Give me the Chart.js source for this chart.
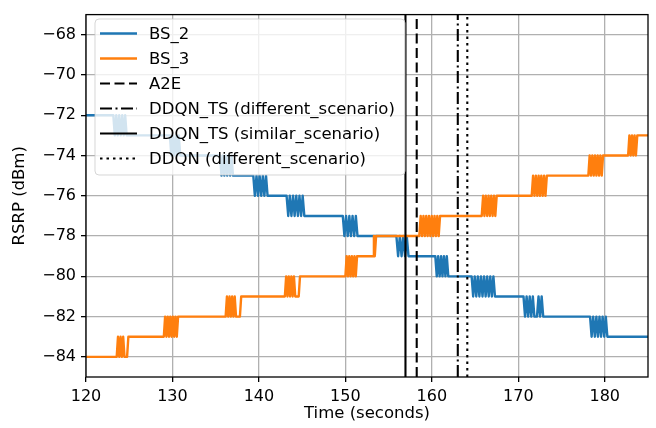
<!DOCTYPE html>
<html>
<head>
<meta charset="utf-8">
<title>RSRP vs time</title>
<script src="https://cdn.jsdelivr.net/npm/chart.js@4.4.1/dist/chart.umd.min.js"></script>
<style>
  html, body { margin: 0; padding: 0; background: #fff; }
  canvas { display: block; }
</style>
</head>
<body>
<canvas id="rsrpChart" width="656" height="428"></canvas>
<script>
// RSRP of the two base stations, sampled as [time (s), RSRP (dBm)]
const bs2Samples = [
    [120, -72],
    [123.16, -72], [123.33, -73], [123.5, -72], [123.67, -73], [123.84, -72], [124.02, -73], [124.19, -72], [124.36, -73], [124.53, -72], [124.7, -73],
    [129.7, -73], [129.87, -74], [130.04, -73], [130.21, -74], [130.39, -73], [130.56, -74], [130.73, -73], [130.9, -74],
    [135.5, -74], [135.67, -75], [135.83, -74], [136.0, -75], [136.17, -74], [136.33, -75], [136.5, -74], [136.67, -75], [136.83, -74], [137.0, -75],
    [139.35, -75], [139.53, -76], [139.72, -75], [139.9, -76], [140.08, -75], [140.27, -76], [140.45, -75], [140.63, -76], [140.82, -75], [141.0, -76],
    [143.2, -76], [143.39, -77], [143.57, -76], [143.76, -77], [143.95, -76], [144.13, -77], [144.32, -76], [144.51, -77], [144.69, -76], [144.88, -77], [145.06, -76], [145.25, -77],
    [149.7, -77], [149.89, -78], [150.08, -77], [150.27, -78], [150.46, -77], [150.64, -78], [150.83, -77], [151.02, -78], [151.21, -77], [151.4, -78],
    [155.9, -78], [156.1, -79], [156.3, -78], [156.5, -79], [156.7, -78], [156.9, -79], [157.1, -78], [157.3, -79],
    [160.4, -79], [160.57, -80], [160.73, -79], [160.9, -80], [161.07, -79], [161.23, -80], [161.4, -79], [161.57, -80], [161.73, -79], [161.9, -80],
    [164.6, -80], [164.78, -81], [164.96, -80], [165.14, -81], [165.32, -80], [165.5, -81], [165.68, -80], [165.86, -81], [166.04, -80], [166.22, -81], [166.4, -80], [166.58, -81], [166.76, -80], [166.94, -81], [167.12, -80], [167.3, -81],
    [170.6, -81], [170.78, -82], [170.96, -81], [171.14, -82], [171.32, -81], [171.5, -82], [171.68, -81], [171.86, -82], [172.16, -82], [172.34, -81], [172.52, -82], [172.7, -81], [172.88, -82],
    [178.3, -82], [178.48, -83], [178.66, -82], [178.85, -83], [179.03, -82], [179.21, -83], [179.39, -82], [179.57, -83], [179.75, -82], [179.94, -83], [180.12, -82], [180.3, -83],
    [185, -83]
];

const bs3Samples = [
    [120, -84],
    [123.55, -84], [123.7, -83], [123.85, -84], [124.0, -83], [124.15, -84], [124.3, -83], [124.45, -84], [124.75, -84], [124.9, -83],
    [129.0, -83], [129.15, -82], [129.3, -83], [129.45, -82], [129.6, -83], [129.75, -82], [129.9, -83], [130.05, -82], [130.2, -83], [130.35, -82], [130.5, -83], [130.65, -82],
    [136.15, -82], [136.3, -81], [136.45, -82], [136.6, -81], [136.75, -82], [136.9, -81], [137.05, -82], [137.2, -81], [137.35, -82], [137.8, -82], [137.95, -81],
    [143.0, -81], [143.15, -80], [143.3, -81], [143.45, -80], [143.6, -81], [143.75, -80], [143.9, -81], [144.05, -80], [144.2, -81], [144.6, -81], [144.75, -80],
    [150.0, -80], [150.15, -79], [150.3, -80], [150.45, -79], [150.6, -80], [150.75, -79], [150.9, -80], [151.05, -79], [151.2, -80], [151.35, -79],
    [153.2, -79], [153.3, -78], [153.4, -79], [153.55, -78],
    [158.55, -78], [158.71, -77], [158.87, -78], [159.03, -77], [159.19, -78], [159.35, -77], [159.51, -78], [159.67, -77], [159.83, -78], [159.99, -77], [160.15, -78], [160.31, -77], [160.47, -78], [160.63, -77], [160.79, -78], [160.95, -77],
    [165.77, -77], [165.93, -76], [166.08, -77], [166.24, -76], [166.4, -77], [166.56, -76], [166.71, -77], [166.87, -76], [167.03, -77], [167.19, -76], [167.34, -77], [167.5, -76],
    [171.55, -76], [171.71, -75], [171.87, -76], [172.03, -75], [172.19, -76], [172.35, -75], [172.5, -76], [172.66, -75], [172.82, -76], [172.98, -75], [173.14, -76], [173.3, -75],
    [178.1, -75], [178.25, -74], [178.41, -75], [178.56, -74], [178.72, -75], [178.87, -74], [179.03, -75], [179.18, -74], [179.34, -75], [179.49, -74], [179.65, -75], [179.8, -74],
    [182.7, -74], [182.85, -73], [183.0, -74], [183.15, -73], [183.3, -74], [183.45, -73], [183.6, -74], [183.76, -73],
    [185, -73]
];

// Handover decision instants (s)
const a2eTime = 158.25;
const ddqnTsDifferentTime = 163.0;
const ddqnTsSimilarTime = 156.95;
const ddqnDifferentTime = 164.1;

// Axis limits and tick positions
const xRange = [120, 185];
const yRange = [-85, -67];
const xTicks = [120, 130, 140, 150, 160, 170, 180];
const yTicks = [-84, -82, -80, -78, -76, -74, -72, -70, -68];

const FONT = "'DejaVu Sans', 'Liberation Sans', sans-serif";

function toPoints(samples) {
    return samples.map(s => ({ x: s[0], y: s[1] }));
}

function verticalLine(t) {
    return [{ x: t, y: yRange[0] }, { x: t, y: yRange[1] }];
}

const datasets = [
    { label: 'BS_2', data: toPoints(bs2Samples), borderColor: '#1f77b4', borderDash: [], borderWidth: 2.4, order: 6 },
    { label: 'BS_3', data: toPoints(bs3Samples), borderColor: '#ff7f0e', borderDash: [], borderWidth: 2.4, order: 5 },
    { label: 'A2E', data: verticalLine(a2eTime), borderColor: '#000', borderDash: [10, 4.5], borderWidth: 2.1, order: 4 },
    { label: 'DDQN_TS (different_scenario)', data: verticalLine(ddqnTsDifferentTime), borderColor: '#000', borderDash: [12, 3.5, 2, 3.5], borderWidth: 2.1, order: 3 },
    { label: 'DDQN_TS (similar_scenario)', data: verticalLine(ddqnTsSimilarTime), borderColor: '#000', borderDash: [], borderWidth: 2.1, order: 2 },
    { label: 'DDQN (different_scenario)', data: verticalLine(ddqnDifferentTime), borderColor: '#000', borderDash: [2.5, 4], borderWidth: 2.1, order: 1 }
];
datasets.forEach(ds => {
    ds.pointRadius = 0;
    ds.tension = 0;
    ds.fill = false;
    ds.clip = 0;
    ds.borderJoinStyle = 'round';
});

// Black frame around the plotting area
const axesFrame = {
    id: 'axesFrame',
    afterDatasetsDraw(chart) {
        const { ctx, chartArea: a } = chart;
        ctx.save();
        ctx.strokeStyle = '#000';
        ctx.lineWidth = 1.3;
        ctx.strokeRect(a.left, a.top, a.right - a.left, a.bottom - a.top);
        ctx.restore();
    }
};

// Legend box drawn inside the axes, upper left
const insideLegend = {
    id: 'insideLegend',
    afterDraw(chart) {
        const ctx = chart.ctx;
        const x = 95, y = 19, w = 310, h = 156, r = 4;
        ctx.save();
        ctx.beginPath();
        ctx.roundRect(x, y, w, h, r);
        ctx.fillStyle = 'rgba(255,255,255,0.8)';
        ctx.fill();
        ctx.strokeStyle = 'rgba(204,204,204,0.8)';
        ctx.lineWidth = 1;
        ctx.stroke();

        ctx.font = '16.5px ' + FONT;
        ctx.textBaseline = 'middle';
        chart.data.datasets.forEach((ds, i) => {
            const rowY = 33.5 + i * 25;
            ctx.beginPath();
            ctx.setLineDash(ds.borderDash);
            ctx.strokeStyle = ds.borderColor;
            ctx.lineWidth = ds.borderWidth;
            ctx.moveTo(100, rowY);
            ctx.lineTo(137, rowY);
            ctx.stroke();
            ctx.setLineDash([]);
            ctx.fillStyle = '#000';
            ctx.fillText(ds.label, 149, rowY + 1);
        });
        ctx.restore();
    }
};

const ctx = document.getElementById('rsrpChart').getContext('2d');
const rsrpChart = new Chart(ctx, {
    type: 'line',
    data: { datasets: datasets },
    options: {
        responsive: false,
        animation: false,
        devicePixelRatio: 1,
        layout: { padding: { top: 11, right: 8, left: 0, bottom: 0 } },
        plugins: {
            legend: { display: false },
            tooltip: { enabled: false }
        },
        scales: {
            x: {
                type: 'linear',
                min: xRange[0],
                max: xRange[1],
                afterBuildTicks: scale => { scale.ticks = xTicks.map(v => ({ value: v })); },
                afterFit: scale => { scale.height = 51; },
                grid: {
                    color: '#b0b0b0',
                    lineWidth: 1.3,
                    tickLength: 5,
                    tickColor: '#000',
                    tickWidth: 1.3
                },
                border: { display: false },
                ticks: {
                    color: '#000',
                    padding: 5,
                    maxRotation: 0,
                    font: { family: FONT, size: 16 }
                },
                title: {
                    display: true,
                    text: 'Time (seconds)',
                    color: '#000',
                    font: { family: FONT, size: 16.5 },
                    padding: { top: 0, bottom: 4 }
                }
            },
            y: {
                type: 'linear',
                min: yRange[0],
                max: yRange[1],
                afterBuildTicks: scale => { scale.ticks = yTicks.map(v => ({ value: v })); },
                afterFit: scale => { scale.width = 86; },
                grid: {
                    color: '#b0b0b0',
                    lineWidth: 1.3,
                    tickLength: 5,
                    tickColor: '#000',
                    tickWidth: 1.3
                },
                border: { display: false },
                ticks: {
                    color: '#000',
                    padding: 5,
                    font: { family: FONT, size: 16 },
                    callback: v => (v < 0 ? '\u2212' : '') + Math.abs(v)
                },
                title: {
                    display: true,
                    text: 'RSRP (dBm)',
                    color: '#000',
                    font: { family: FONT, size: 16.5 },
                    padding: { top: 10, bottom: 0 }
                }
            }
        }
    },
    plugins: [axesFrame, insideLegend]
});
</script>
</body>
</html>
